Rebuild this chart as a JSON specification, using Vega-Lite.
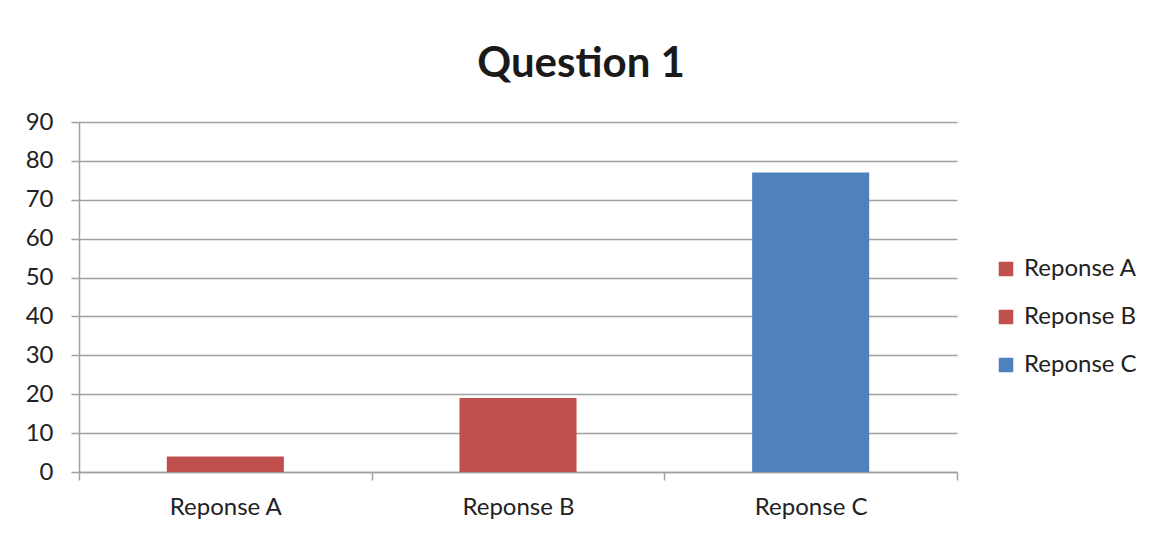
{
  "$schema": "https://vega.github.io/schema/vega-lite/v6.json",
  "width": 878,
  "height": 350,
  "autosize": {"type": "none"},
  "padding": {"left": 79, "top": 122, "right": 192, "bottom": 61},
  "background": "white",
  "title": {
    "text": "Question 1",
    "font": "Lato",
    "fontSize": 42,
    "fontWeight": "bold",
    "color": "#1a1a1a",
    "anchor": "middle",
    "frame": "bounds",
    "offset": 24
  },
  "data": {
    "values": [
      {"response": "Reponse A", "value": 4},
      {"response": "Reponse B", "value": 19},
      {"response": "Reponse C", "value": 77}
    ]
  },
  "mark": {"type": "bar", "width": {"band": 0.4}},
  "encoding": {
    "x": {
      "field": "response",
      "type": "nominal",
      "title": null,
      "scale": {"paddingInner": 0, "paddingOuter": 0},
      "axis": {
        "labelAngle": 0,
        "labelFont": "Lato",
        "labelFontSize": 24,
        "labelColor": "#222222",
        "labelPadding": 15,
        "tickBand": "extent",
        "tickSize": 8,
        "tickColor": "#a0a0a0",
        "tickWidth": 1.5,
        "domainColor": "#a0a0a0",
        "domainWidth": 1.5,
        "grid": false
      }
    },
    "y": {
      "field": "value",
      "type": "quantitative",
      "title": null,
      "scale": {"domain": [0, 90], "nice": false},
      "axis": {
        "values": [0, 10, 20, 30, 40, 50, 60, 70, 80, 90],
        "labelFont": "Lato",
        "labelFontSize": 24,
        "labelColor": "#222222",
        "labelPadding": 18,
        "tickSize": 8,
        "tickColor": "#a0a0a0",
        "tickWidth": 1.5,
        "domainColor": "#a0a0a0",
        "domainWidth": 1.5,
        "grid": true,
        "gridColor": "#a0a0a0",
        "gridWidth": 1.5
      }
    },
    "color": {
      "field": "response",
      "type": "nominal",
      "scale": {
        "domain": ["Reponse A", "Reponse B", "Reponse C"],
        "range": ["#C0504D", "#C0504D", "#4F81BD"]
      },
      "legend": {
        "title": null,
        "orient": "none",
        "legendX": 915,
        "legendY": 135,
        "symbolType": "square",
        "symbolSize": 210,
        "symbolStrokeWidth": 0,
        "labelFont": "Lato",
        "labelFontSize": 24,
        "labelColor": "#222222",
        "labelOffset": 6,
        "rowPadding": 24
      }
    }
  },
  "config": {
    "view": {"stroke": null}
  }
}
